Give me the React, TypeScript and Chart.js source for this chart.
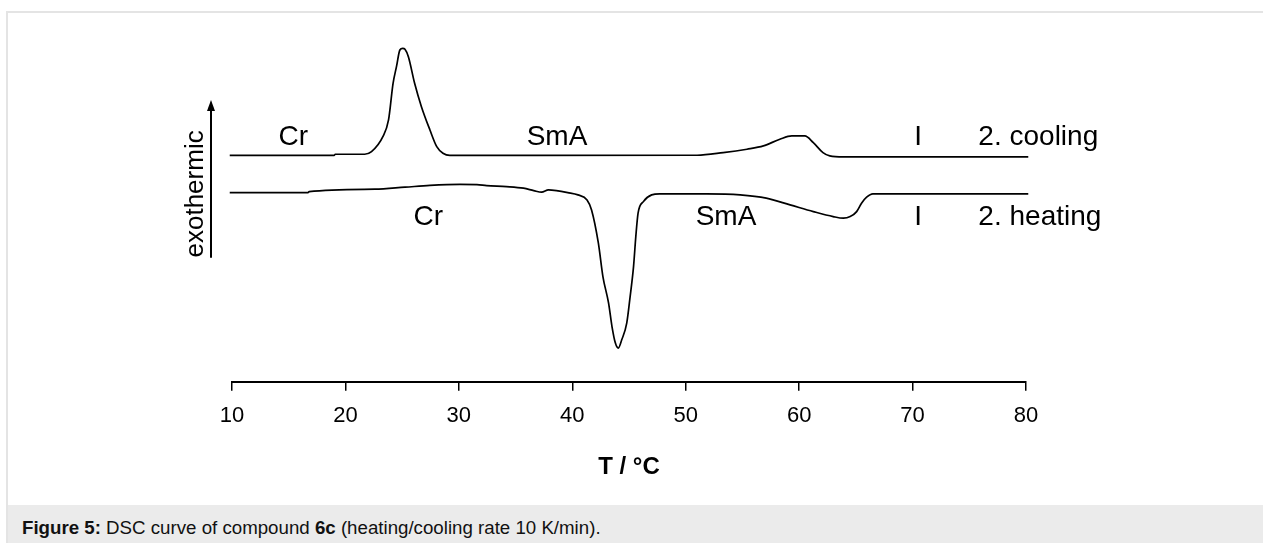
import React, { useEffect, useRef } from "react";
import { Chart, registerables } from "chart.js";

Chart.register(...registerables);

// Temperature (°C) and heat flow (arbitrary units)
const coolingT = [9.8, 19.0, 19.1, 21.7, 22.3, 23.3, 23.8, 24.2, 24.5, 24.8, 25.05, 25.25, 25.55, 26.1, 26.7, 27.45, 28.05, 28.6, 29.2, 51.0, 53.3, 55.4, 56.85, 58.3, 59.35, 60.5, 61.25, 62.1, 62.7, 63.9, 80.2];
const coolingHF = [22.65, 22.65, 22.77, 22.77, 23.03, 24.53, 26.2, 29.87, 31.53, 33.2, 33.37, 33.27, 32.53, 29.87, 27.53, 25.2, 23.53, 22.87, 22.65, 22.67, 22.93, 23.27, 23.6, 24.27, 24.6, 24.6, 23.93, 22.93, 22.6, 22.5, 22.5];

const heatingT = [9.8, 16.7, 16.8, 22.6, 25.25, 27.45, 30.1, 31.6, 32.45, 34.2, 35.7, 36.6, 37.3, 37.9, 38.6, 39.6, 40.5, 41.3, 41.7, 42.3, 42.7, 43.2, 43.5, 43.8, 44.06, 44.36, 44.8, 45.1, 45.4, 45.6, 45.8, 46.27, 47.0, 47.7, 49.5, 51.85, 54.8, 57.1, 59.2, 61.25, 63.0, 63.9, 64.5, 65.07, 65.5, 65.95, 66.5, 80.2];
const heatingHF = [18.93, 18.93, 19.03, 19.27, 19.47, 19.65, 19.75, 19.73, 19.63, 19.53, 19.37, 19.13, 18.97, 19.2, 19.13, 18.93, 18.7, 18.2, 17.2, 13.87, 10.53, 7.87, 5.53, 3.87, 3.37, 4.2, 5.87, 8.53, 11.53, 14.53, 16.87, 18.03, 18.7, 18.8, 18.8, 18.8, 18.7, 18.37, 17.7, 17.03, 16.53, 16.37, 16.53, 17.03, 17.87, 18.47, 18.8, 18.8];

const xTicks = [10, 20, 30, 40, 50, 60, 70, 80];

// Phase annotations: text, temperature, heat-flow level, alignment
const phaseTexts = ["Cr", "SmA", "I", "2. cooling", "Cr", "SmA", "I", "2. heating"];
const phaseT = [15.4, 38.65, 70.5, 75.8, 27.3, 53.55, 70.5, 75.8];
const phaseHF = [24.5, 24.5, 24.5, 24.5, 16.5, 16.5, 16.5, 16.5];
const phaseAlign = ["center", "center", "center", "left", "center", "center", "center", "left"];

const FONT = '"Liberation Sans", Arial, Helvetica, sans-serif';

const annotationPlugin = {
  id: "dscAnnotations",
  afterDatasetsDraw(chart: any) {
    const { ctx, chartArea, scales } = chart;
    const xs = scales.x;
    const ys = scales.y;
    ctx.save();
    ctx.fillStyle = "#000";
    ctx.font = `28px ${FONT}`;
    ctx.textBaseline = "middle";
    phaseTexts.forEach((t, i) => {
      ctx.textAlign = phaseAlign[i] as CanvasTextAlign;
      ctx.fillText(t, xs.getPixelForValue(phaseT[i]), ys.getPixelForValue(phaseHF[i]));
    });
    // exothermic arrow
    const ax = chartArea.left - 21;
    const yTop = ys.getPixelForValue(28.2);
    const yBot = ys.getPixelForValue(12.4);
    ctx.strokeStyle = "#000";
    ctx.lineWidth = 2;
    ctx.beginPath();
    ctx.moveTo(ax, yBot);
    ctx.lineTo(ax, yTop + 8);
    ctx.stroke();
    ctx.beginPath();
    ctx.moveTo(ax, yTop);
    ctx.lineTo(ax - 4, yTop + 11);
    ctx.lineTo(ax + 4, yTop + 11);
    ctx.closePath();
    ctx.fill();
    ctx.translate(chartArea.left - 36, ys.getPixelForValue(18.8));
    ctx.rotate(-Math.PI / 2);
    ctx.textAlign = "center";
    ctx.textBaseline = "middle";
    ctx.font = `26px ${FONT}`;
    ctx.fillText("exothermic", 0, 0);
    ctx.restore();
  },
};

export default function App() {
  const canvasRef = useRef<HTMLCanvasElement | null>(null);

  useEffect(() => {
    if (!canvasRef.current) return;
    const chart = new Chart(canvasRef.current, {
      type: "line",
      data: {
        datasets: [
          {
            label: "2. cooling",
            data: coolingT.map((t, i) => ({ x: t, y: coolingHF[i] })),
            borderColor: "#000",
            borderWidth: 1.7,
            pointRadius: 0,
            cubicInterpolationMode: "monotone",
            clip: 6,
          },
          {
            label: "2. heating",
            data: heatingT.map((t, i) => ({ x: t, y: heatingHF[i] })),
            borderColor: "#000",
            borderWidth: 1.7,
            pointRadius: 0,
            cubicInterpolationMode: "monotone",
            clip: 6,
          },
        ],
      },
      options: {
        animation: false,
        responsive: false,
        layout: { padding: { left: 232, right: 237, top: 18, bottom: 19 } },
        plugins: { legend: { display: false }, tooltip: { enabled: false } },
        scales: {
          x: {
            type: "linear",
            min: 10,
            max: 80,
            afterBuildTicks: (scale: any) => {
              scale.ticks = xTicks.map((v) => ({ value: v }));
            },
            ticks: { color: "#000", font: { family: FONT, size: 22 }, padding: 12 },
            grid: { drawOnChartArea: false, drawTicks: true, tickLength: 9, color: "#000", lineWidth: 1.5 },
            border: { display: true, color: "#000", width: 2 },
            title: {
              display: true,
              text: "T / °C",
              color: "#000",
              font: { family: FONT, size: 24, weight: "bold" },
              padding: { top: 12, bottom: 4 },
            },
          },
          y: { display: false, min: 0, max: 35.2 },
        },
      },
      plugins: [annotationPlugin],
    });
    return () => chart.destroy();
  }, []);

  return (
    <div style={{ position: "absolute", left: 0, top: 0, width: 1263, height: 543, overflow: "hidden", background: "#fff", fontFamily: FONT }}>
      <div style={{ position: "absolute", left: 6, top: 11, width: 1300, height: 600, borderLeft: "2px solid #e4e4e4", borderTop: "2px solid #e4e4e4" }} />
      <canvas ref={canvasRef} width={1263} height={493} style={{ position: "absolute", left: 0, top: 12, width: 1263, height: 493 }} />
      <div style={{ position: "absolute", left: 8, top: 505, width: 1255, height: 38, background: "#ebebeb" }}>
        <div style={{ position: "absolute", left: 14, top: 12, fontSize: 18.7, lineHeight: "22px", color: "#111", whiteSpace: "nowrap" }}>
          <b>Figure 5:</b> DSC curve of compound <b>6c</b> (heating/cooling rate 10 K/min).
        </div>
      </div>
    </div>
  );
}
